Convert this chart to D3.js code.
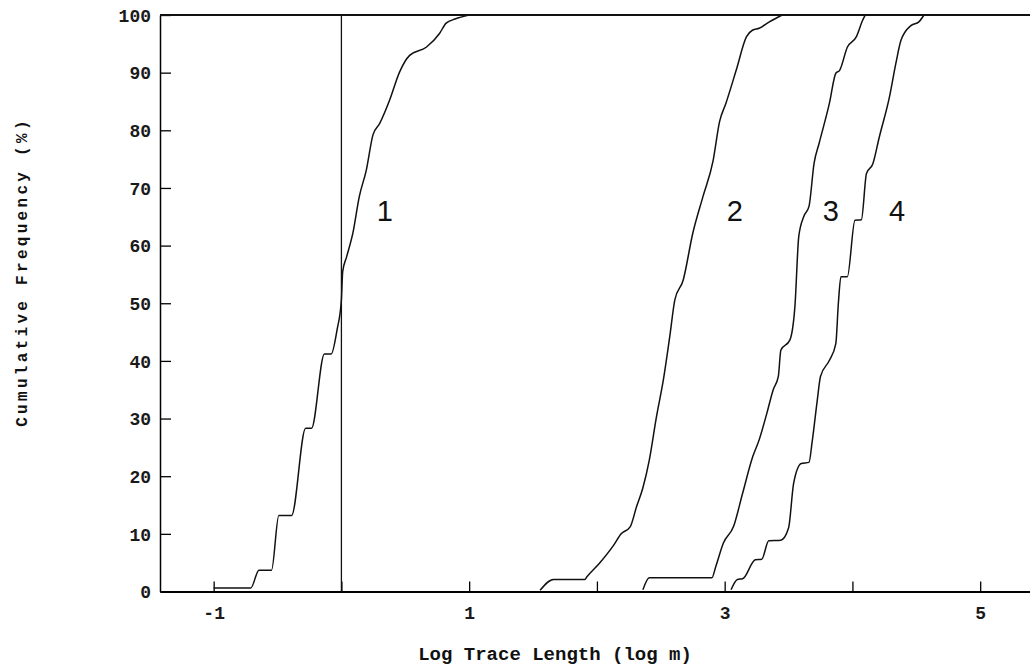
<!DOCTYPE html>
<meta charset="utf-8" />
<style>
  body { margin: 0; background: #fff; }
  svg { display: block; }
  .tick text { font-family: "Liberation Mono", "DejaVu Sans Mono", monospace; font-size: 18px; font-weight: bold; fill: #1a1a1a; }
</style>
<body>
<div id="chart"></div>
<script src="https://cdn.jsdelivr.net/npm/d3@7"></script>
<script>
  // cumulative frequency curves (x = log m, y = %)
  const curve1X = [-1.0, -0.71, -0.645, -0.547, -0.49, -0.39, -0.28, -0.234, -0.133, -0.08, -0.034, 0.0, 0.01, 0.04, 0.09, 0.14, 0.195, 0.247, 0.30, 0.377, 0.455, 0.534, 0.664, 0.768, 0.82, 0.89, 1.0];
  const curve1Y = [0.6, 0.6, 3.7, 3.7, 13.2, 13.2, 28.3, 28.3, 41.2, 41.2, 45.4, 50.6, 55.5, 58.0, 62.2, 68.5, 73.1, 79.2, 81.2, 85.2, 90.1, 93.0, 94.4, 96.8, 98.6, 99.3, 100];

  const curve2X = [1.555, 1.66, 1.906, 1.92, 2.02, 2.13, 2.19, 2.26, 2.31, 2.36, 2.41, 2.466, 2.52, 2.57, 2.61, 2.675, 2.75, 2.83, 2.91, 2.96, 3.01, 3.09, 3.17, 3.22, 3.27, 3.35, 3.45];
  const curve2Y = [0.2, 2.1, 2.1, 2.5, 4.9, 8.0, 10.0, 11.2, 14.7, 18.0, 22.8, 30.3, 36.7, 44.2, 50.6, 54.0, 62.1, 68.5, 74.8, 81.5, 84.7, 90.4, 96.2, 97.4, 97.7, 98.8, 100];

  const curve3X = [2.36, 2.41, 2.90, 2.93, 2.99, 3.07, 3.14, 3.22, 3.27, 3.33, 3.38, 3.42, 3.44, 3.51, 3.55, 3.58, 3.62, 3.66, 3.70, 3.74, 3.82, 3.87, 3.90, 3.96, 4.03, 4.08, 4.10];
  const curve3Y = [0.3, 2.4, 2.4, 4.3, 8.4, 11.3, 17.0, 23.4, 26.3, 30.9, 35.0, 37.3, 41.9, 43.6, 49.5, 61.6, 65.1, 66.8, 74.3, 77.8, 84.7, 89.9, 90.4, 94.4, 96.2, 99.1, 100];

  const curve4X = [3.05, 3.10, 3.14, 3.24, 3.29, 3.345, 3.44, 3.50, 3.54, 3.60, 3.66, 3.685, 3.725, 3.75, 3.82, 3.87, 3.89, 3.91, 3.96, 4.02, 4.07, 4.11, 4.16, 4.21, 4.29, 4.34, 4.38, 4.46, 4.52, 4.56];
  const curve4Y = [0.3, 2.1, 2.2, 5.5, 5.6, 8.8, 8.9, 11.0, 18.8, 22.2, 22.4, 26.0, 33.2, 37.3, 40.1, 43.0, 50.0, 54.6, 54.6, 64.4, 64.5, 72.5, 74.2, 78.8, 85.8, 91.6, 95.6, 98.2, 98.8, 100];

  const curveNames = ["1", "2", "3", "4"];
  const xTicks = [-1, 0, 1, 2, 3, 4, 5];
  const xTickLabels = ["-1", "", "1", "", "3", "", "5"];
  const yTicks = [0, 10, 20, 30, 40, 50, 60, 70, 80, 90, 100];

  var width = 1030;
  var height = 670;

  let svg = d3.select("#chart").append("svg").attr("width", width).attr("height", height);

  // plot runs off the right edge of the page, like the scan
  let x = d3.scaleLinear().domain([-1.42, 5.39]).range([160, 1030]);
  let y = d3.scaleLinear().domain([0, 100]).range([591.5, 15]);

  let xAxis = svg.append("g")
    .attr("transform", "translate(0," + y(0) + ")")
    .call(d3.axisBottom(x).tickValues(xTicks).tickSizeInner(-10).tickSizeOuter(0).tickPadding(15)
      .tickFormat((d, i) => xTickLabels[i]));
  xAxis.select(".domain").attr("stroke-width", 2);
  xAxis.selectAll(".tick line").attr("stroke-width", 1.3);

  let yAxis = svg.append("g")
    .attr("transform", "translate(" + x.range()[0] + ",0)")
    .call(d3.axisLeft(y).tickValues(yTicks).tickSizeInner(-11).tickSizeOuter(0).tickPadding(9));
  yAxis.select(".domain").attr("stroke-width", 1.5);
  yAxis.selectAll(".tick line").attr("stroke-width", 1.3);
  yAxis.selectAll(".tick text").attr("dy", "0.35em");

  // top border
  svg.append("line")
    .attr("x1", x.range()[0]).attr("x2", x.range()[1])
    .attr("y1", y(100)).attr("y2", y(100))
    .attr("stroke", "#111").attr("stroke-width", 2);

  // vertical reference line at log m = 0
  svg.append("line")
    .attr("x1", x(0)).attr("x2", x(0))
    .attr("y1", y(100)).attr("y2", y(0))
    .attr("stroke", "#111").attr("stroke-width", 1.3);

  let curves = [
    d3.zip(curve1X, curve1Y),
    d3.zip(curve2X, curve2Y),
    d3.zip(curve3X, curve3Y),
    d3.zip(curve4X, curve4Y),
  ];

  let line = d3.line().x((d) => x(d[0])).y((d) => y(d[1])).curve(d3.curveMonotoneX);

  svg.selectAll(".curve")
    .data(curves)
    .enter()
    .append("path")
    .attr("class", "curve")
    .attr("d", line)
    .attr("fill", "none")
    .attr("stroke", "#111")
    .attr("stroke-width", 1.5)
    .attr("stroke-linejoin", "round");

  // curve numbers sit just right of each curve at ~66 %
  const labelX = [0.34, 3.08, 3.83, 4.35];
  svg.selectAll(".clabel")
    .data(curveNames)
    .enter()
    .append("text")
    .attr("class", "clabel")
    .attr("x", (d, i) => x(labelX[i]))
    .attr("y", y(66))
    .attr("dy", "0.36em")
    .attr("text-anchor", "middle")
    .attr("font-family", "Liberation Sans, Arial, sans-serif")
    .attr("font-size", "29px")
    .attr("fill", "#111")
    .text((d) => d);

  svg.append("text")
    .attr("x", 555)
    .attr("y", 660)
    .attr("text-anchor", "middle")
    .attr("font-family", "Liberation Mono, monospace")
    .attr("font-weight", "bold")
    .attr("font-size", "19px")
    .attr("fill", "#111")
    .text("Log Trace Length (log m)");

  svg.append("text")
    .attr("transform", "translate(27," + 272 + ") rotate(-90)")
    .attr("text-anchor", "middle")
    .attr("font-family", "Liberation Mono, monospace")
    .attr("font-weight", "bold")
    .attr("font-size", "16px")
    .attr("letter-spacing", "3.3px")
    .attr("fill", "#111")
    .text("Cumulative Frequency (%)");
</script>
</body>
